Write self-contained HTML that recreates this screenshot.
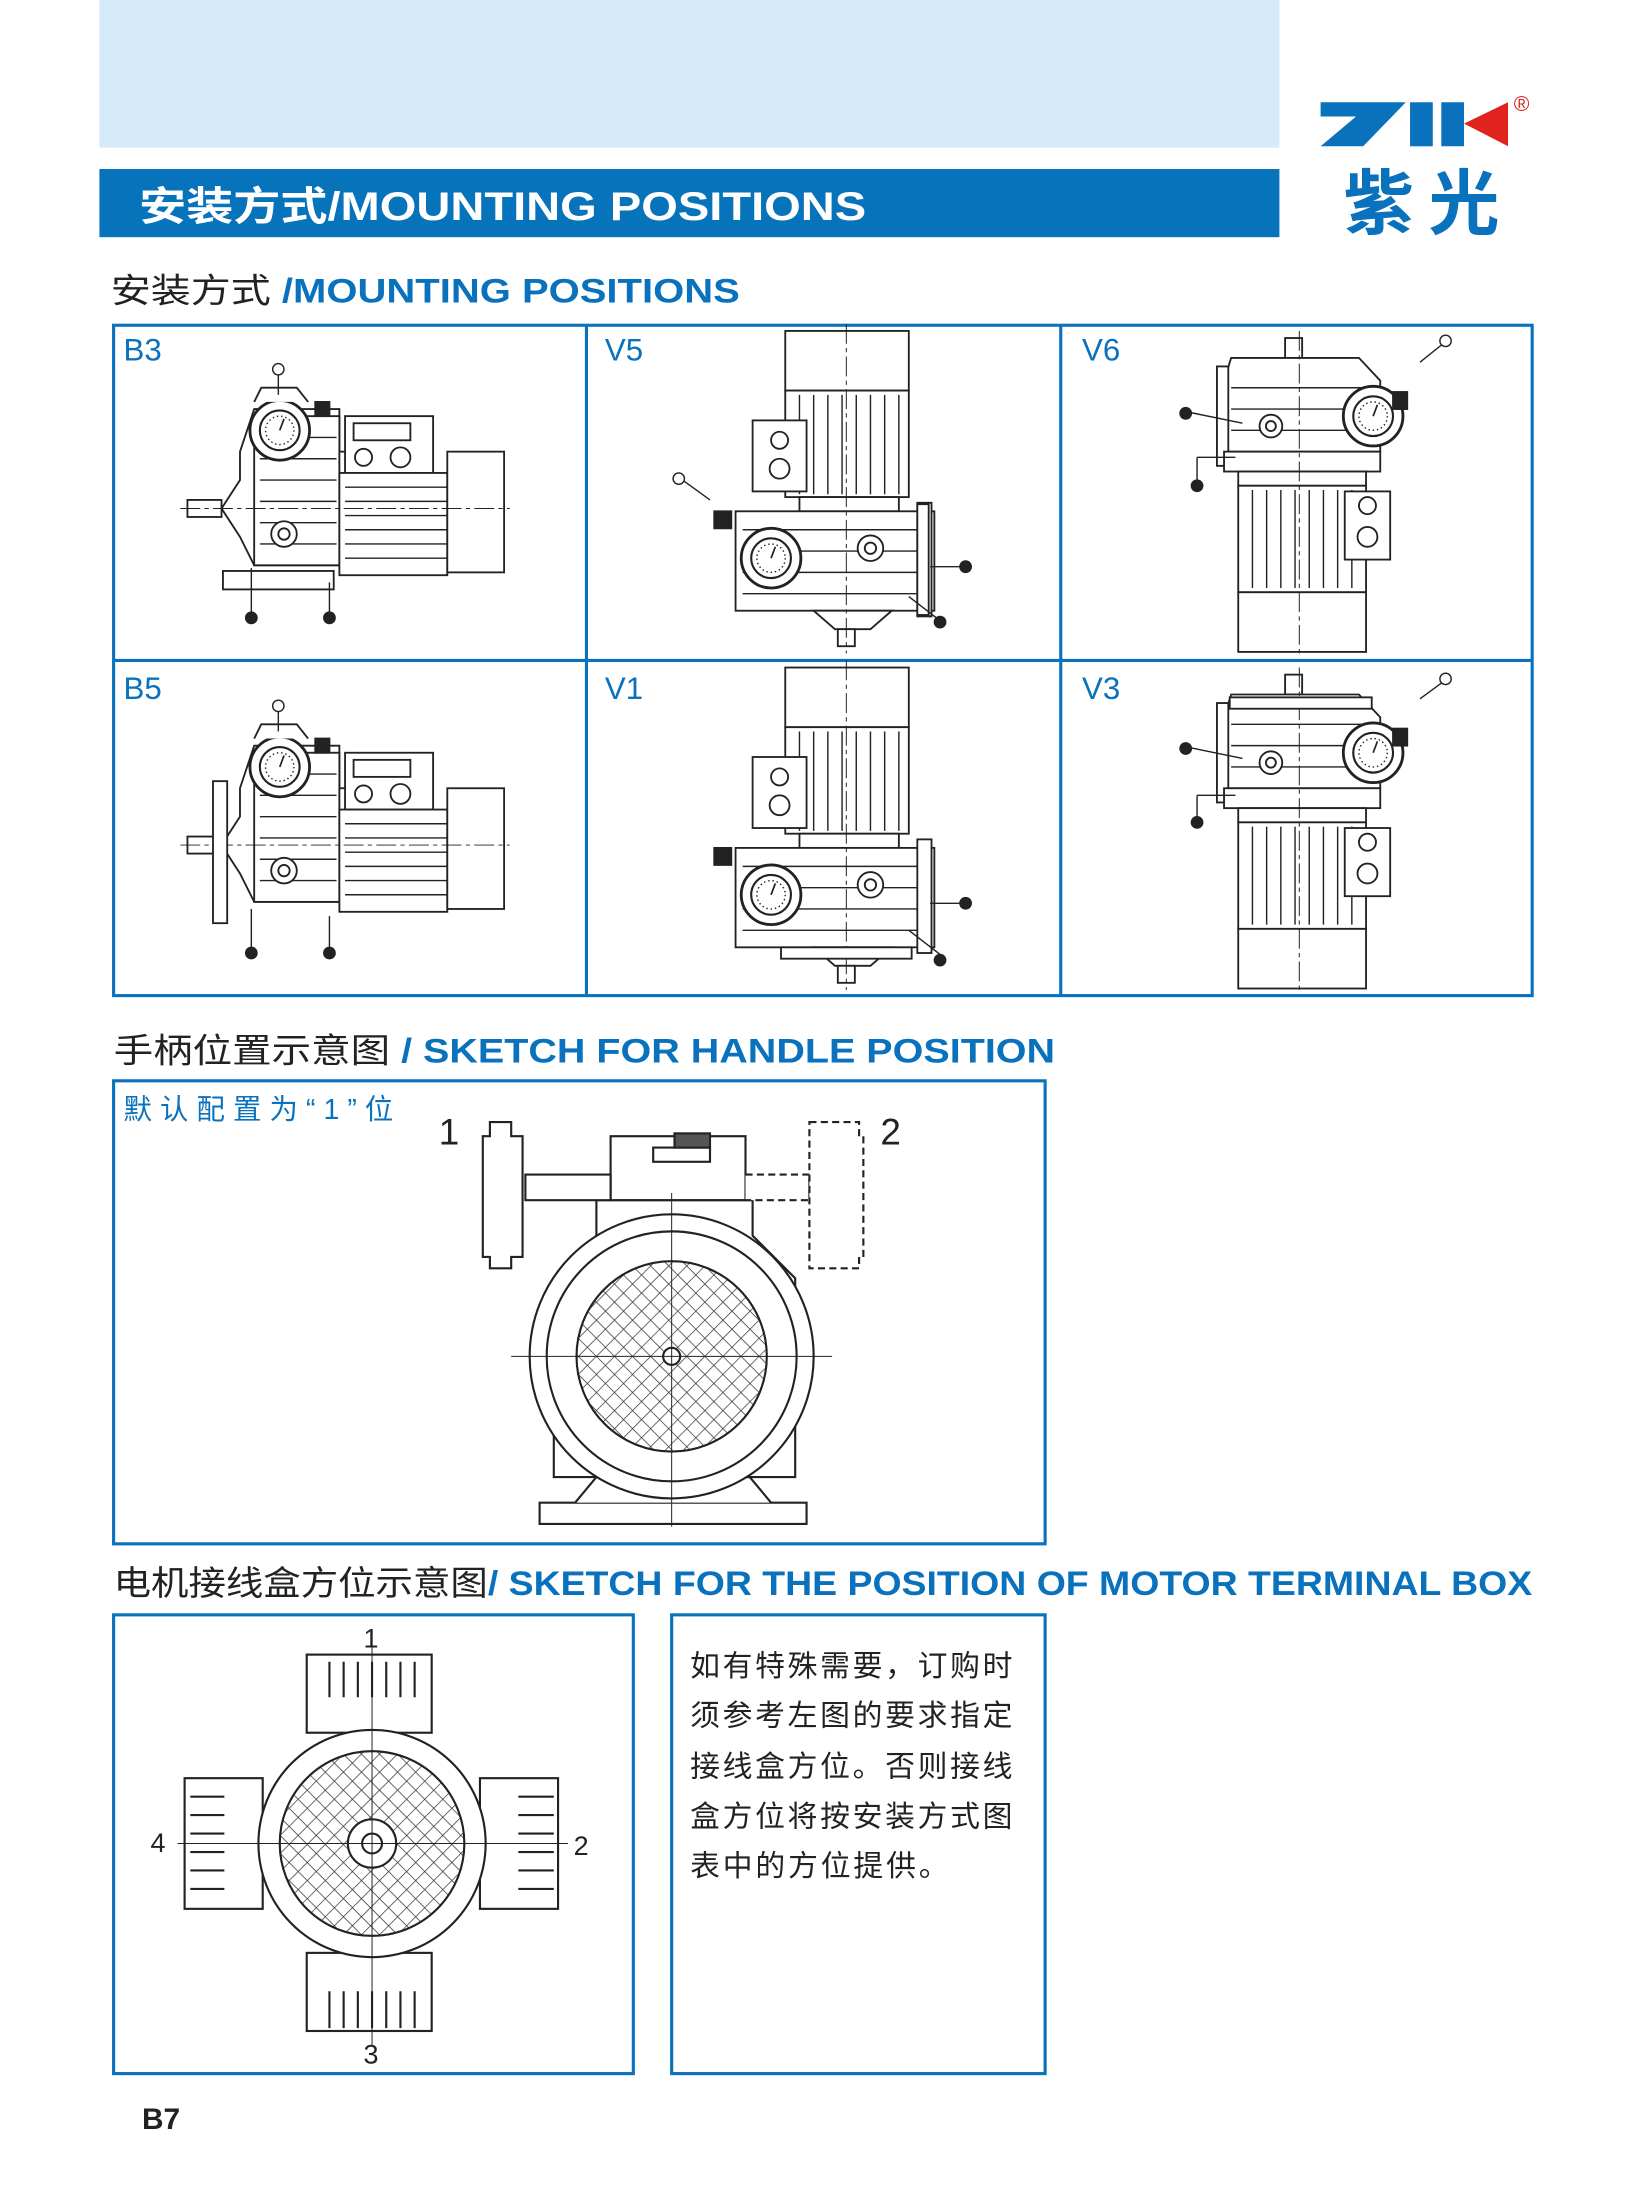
<!DOCTYPE html>
<html><head><meta charset="utf-8"><style>
html,body{margin:0;padding:0;background:#fff}
svg{display:block}
text{font-family:"Liberation Sans","Noto Sans CJK SC",sans-serif}
</style></head><body>
<svg width="1633" height="2200" viewBox="0 0 1150 1549" preserveAspectRatio="none" xmlns="http://www.w3.org/2000/svg">
<defs>
<pattern id="mesh" width="9" height="9" patternUnits="userSpaceOnUse" patternTransform="rotate(45)">
<rect width="9" height="9" fill="#fff"/>
<path d="M0 0H9M0 0V9" stroke="#333" stroke-width="1"/>
</pattern>
<g id="gauge">
<circle r="21" fill="#fff" stroke="#222" stroke-width="2"/>
<circle r="14" fill="#fff" stroke="#222" stroke-width="1.5"/>
<circle r="10" fill="none" stroke="#222" stroke-width="1" stroke-dasharray="1 2"/>
<line x1="0" y1="0" x2="3" y2="-8" stroke="#222" stroke-width="1.2"/>
</g>
<g id="hunit" fill="#fff" stroke="#222" stroke-width="1.3">
<rect x="53" y="124" width="24" height="12"/>
<path d="M77 130 L90 110 L90 90 L100 60 L160 60 L160 170 L100 170 L90 150 Z"/>
<rect x="100" y="65" width="60" height="105"/>
<path d="M104 80H158M104 95H158M104 110H158M104 125H158M104 140H158M104 155H158" stroke-width="1"/>
<rect x="160" y="90" width="12" height="80"/>
<rect x="164" y="65" width="62" height="40"/>
<rect x="170" y="70" width="40" height="12"/>
<circle cx="177" cy="94" r="6"/><circle cx="203" cy="94" r="7"/>
<rect x="160" y="105" width="76" height="72"/>
<path d="M164 115H236M164 125H236M164 135H236M164 145H236M164 155H236M164 165H236" stroke-width="1"/>
<rect x="236" y="90" width="40" height="85"/>
<path d="M48 130H280" stroke-width="0.7" stroke-dasharray="14 3 3 3"/>
<circle cx="121" cy="148" r="9"/><circle cx="121" cy="148" r="4"/>
<use href="#gauge" x="118" y="75"/>
<rect x="143" y="55" width="10" height="10" fill="#222"/>
<path d="M100 55 L105 45 L130 45 L138 55" />
</g>
<g id="vunit" fill="#fff" stroke="#222" stroke-width="1.3">
<rect x="140" y="5" width="87" height="42"/>
<rect x="140" y="47" width="87" height="75"/>
<path d="M150 50V120M160 50V120M170 50V120M180 50V120M190 50V120M200 50V120M210 50V120M220 50V120" stroke-width="1"/>
<rect x="117" y="68" width="38" height="50"/>
<circle cx="136" cy="82" r="6"/><circle cx="136" cy="102" r="7"/>
<rect x="150" y="122" width="70" height="10"/>
<rect x="105" y="132" width="140" height="70"/>
<path d="M110 145H240M110 160H240M110 175H240M110 190H240" stroke-width="1"/>
<rect x="233" y="126" width="10" height="80"/>
<path d="M160 202 L175 215 L200 215 L215 202Z"/>
<rect x="177" y="215" width="12" height="12"/>
<use href="#gauge" x="130" y="165"/>
<rect x="90" y="132" width="12" height="12" fill="#222"/>
<circle cx="200" cy="158" r="9"/><circle cx="200" cy="158" r="4"/>
<path d="M183 0V232" stroke-width="0.7" stroke-dasharray="14 3 3 3"/>
</g>
<g id="v6unit" fill="#fff" stroke="#222" stroke-width="1.3">
<rect x="158" y="10" width="12" height="14"/>
<path d="M120 24 H210 L225 40 V90 H115 V40 Z"/>
<path d="M120 45H225M120 60H225M120 75H225" stroke-width="1"/>
<rect x="110" y="30" width="8" height="70"/>
<rect x="115" y="90" width="110" height="14"/>
<rect x="125" y="104" width="90" height="10"/>
<rect x="125" y="114" width="90" height="75"/>
<path d="M135 117V186M145 117V186M155 117V186M165 117V186M175 117V186M185 117V186M195 117V186M205 117V186" stroke-width="1"/>
<rect x="200" y="118" width="32" height="48"/>
<circle cx="216" cy="128" r="6"/><circle cx="216" cy="150" r="7"/>
<rect x="125" y="189" width="90" height="42"/>
<use href="#gauge" x="220" y="65"/>
<circle cx="148" cy="72" r="8"/><circle cx="148" cy="72" r="3.5"/>
<rect x="234" y="48" width="10" height="12" fill="#222"/>
<path d="M168 5V232" stroke-width="0.7" stroke-dasharray="14 3 3 3"/>
</g>
</defs>

<rect x="70" y="0" width="831" height="104" fill="#d6ebf9"/>
<rect x="70" y="119" width="831" height="48" fill="#0673bb"/>
<text x="98" y="155" font-size="28" font-weight="bold" fill="#fff" textLength="512" lengthAdjust="spacingAndGlyphs">安装方式/MOUNTING POSITIONS</text>
<!-- logo -->
<path d="M930 72 H990 L960 103 H930 L955 82 H930 Z" fill="#0a72bd"/>
<rect x="993" y="72" width="16" height="31" fill="#0a72bd"/>
<path d="M1015 72 H1031 V103 H1015 Z" fill="#0a72bd"/>
<path d="M1031 87 L1062 72 V103 Z" fill="#e0231e"/>
<text x="1066" y="78" font-size="15" fill="#e0231e">®</text>
<text x="946" y="161" font-size="50" font-weight="bold" fill="#0a72bd" font-family="Noto Sans CJK SC,sans-serif" textLength="110">紫光</text>

<text x="78" y="213" font-size="24" fill="#222" textLength="443" lengthAdjust="spacingAndGlyphs">安装方式 <tspan fill="#0a72bd" font-weight="bold">/MOUNTING POSITIONS</tspan></text>

<g fill="none" stroke="#0a72bd" stroke-width="2.2">
<rect x="80" y="229" width="999" height="472"/>
<line x1="80" y1="465" x2="1079" y2="465"/>
<line x1="413" y1="229" x2="413" y2="701"/>
<line x1="747" y1="229" x2="747" y2="701"/>
</g>
<g font-size="22" fill="#0a72bd">
<text x="87" y="254">B3</text><text x="426" y="254">V5</text><text x="762" y="254">V6</text>
<text x="87" y="492">B5</text><text x="426" y="492">V1</text><text x="762" y="492">V3</text>
</g>

<!-- B3 -->
<use href="#hunit" x="79" y="228"/>
<rect x="157" y="402" width="78" height="13" fill="#fff" stroke="#222" stroke-width="1.3"/>
<g stroke="#222" fill="#222">
<circle cx="196" cy="260" r="4" fill="#fff"/><line x1="196" y1="264" x2="196" y2="278"/>
<line x1="177" y1="432" x2="177" y2="400"/><circle cx="177" cy="435" r="4"/>
<line x1="232" y1="432" x2="232" y2="410"/><circle cx="232" cy="435" r="4"/>
</g>
<!-- B5 -->
<use href="#hunit" x="79" y="465"/>
<rect x="150" y="550" width="10" height="100" fill="#fff" stroke="#222" stroke-width="1.3"/>
<g stroke="#222" fill="#222">
<circle cx="196" cy="497" r="4" fill="#fff"/><line x1="196" y1="501" x2="196" y2="515"/>
<line x1="177" y1="668" x2="177" y2="640"/><circle cx="177" cy="671" r="4"/>
<line x1="232" y1="668" x2="232" y2="645"/><circle cx="232" cy="671" r="4"/>
</g>
<!-- V5 -->
<use href="#vunit" x="413" y="228"/>
<rect x="646" y="355" width="8" height="78" fill="#fff" stroke="#222" stroke-width="1.3"/>
<g stroke="#222" fill="#222">
<circle cx="478" cy="337" r="4" fill="#fff"/><line x1="482" y1="339" x2="500" y2="352"/>
<line x1="662" y1="437" x2="640" y2="420"/><circle cx="662" cy="438" r="4"/>
<line x1="678" y1="399" x2="655" y2="399"/><circle cx="680" cy="399" r="4"/>
</g>
<!-- V1 -->
<use href="#vunit" x="413" y="465"/>
<rect x="550" y="667" width="92" height="8" fill="#fff" stroke="#222" stroke-width="1.3"/>
<g stroke="#222" fill="#222">
<line x1="662" y1="672" x2="640" y2="655"/><circle cx="662" cy="676" r="4"/>
<line x1="678" y1="636" x2="655" y2="636"/><circle cx="680" cy="636" r="4"/>
</g>
<!-- V6 -->
<use href="#v6unit" x="747" y="228"/>
<g stroke="#222" fill="#222">
<circle cx="1018" cy="240" r="4" fill="#fff"/><line x1="1015" y1="243" x2="1000" y2="255"/>
<line x1="836" y1="290" x2="875" y2="298"/><circle cx="835" cy="291" r="4"/>
<line x1="843" y1="340" x2="843" y2="322"/><line x1="843" y1="322" x2="870" y2="322"/><circle cx="843" cy="342" r="4"/>
</g>
<!-- V3 -->
<use href="#v6unit" x="747" y="465"/>
<rect x="866" y="491" width="100" height="8" fill="#fff" stroke="#222" stroke-width="1.3"/>
<g stroke="#222" fill="#222">
<circle cx="1018" cy="478" r="4" fill="#fff"/><line x1="1015" y1="481" x2="1000" y2="492"/>
<line x1="836" y1="526" x2="875" y2="534"/><circle cx="835" cy="527" r="4"/>
<line x1="843" y1="577" x2="843" y2="560"/><line x1="843" y1="560" x2="870" y2="560"/><circle cx="843" cy="579" r="4"/>
</g>

<text x="80" y="748" font-size="24" fill="#222" textLength="663" lengthAdjust="spacingAndGlyphs">手柄位置示意图<tspan fill="#0a72bd" font-weight="bold"> / SKETCH FOR HANDLE POSITION</tspan></text>
<rect x="80" y="761" width="656" height="326" fill="none" stroke="#0a72bd" stroke-width="2.2"/>
<text x="87" y="788" font-size="20" fill="#0a72bd" textLength="190" lengthAdjust="spacing">默认配置为“1”位</text>
<text x="309" y="806" font-size="26" fill="#222">1</text>
<text x="620" y="806" font-size="26" fill="#222">2</text>
<!-- handle sketch -->
<g fill="#fff" stroke="#222" stroke-width="1.5">
<path d="M380 1058 H568 V1073 H380 Z"/>
<path d="M405 1058 L420 1040 H528 L543 1058"/>
<path d="M420 870 V845 H530 V870 L560 900 V1040 H390 V900 Z"/>
<rect x="430" y="800" width="95" height="45"/>
<rect x="460" y="808" width="40" height="10"/>
<rect x="475" y="798" width="25" height="10" fill="#555"/>
<circle cx="473" cy="955" r="100"/>
<circle cx="473" cy="955" r="88"/>
<circle cx="473" cy="955" r="67" fill="url(#mesh)"/>
<circle cx="473" cy="955" r="6"/>
<path d="M370 827 H430 V845 H370 Z"/>
<path d="M345 790 H360 V800 H368 V885 H360 V893 H345 V885 H340 V800 H345 Z"/>
<g stroke-dasharray="5 3">
<path d="M525 827 H570 V845 H525"/>
<path d="M570 790 H605 V800 H608 V885 H605 V893 H570 Z"/>
</g>
<path d="M360 955 H586 M473 840 V1075" stroke-width="0.7"/>
</g>

<text x="80" y="1123" font-size="24" fill="#222" textLength="999" lengthAdjust="spacingAndGlyphs">电机接线盒方位示意图<tspan fill="#0a72bd" font-weight="bold">/ SKETCH FOR THE POSITION OF MOTOR TERMINAL BOX</tspan></text>
<rect x="80" y="1137" width="366" height="323" fill="none" stroke="#0a72bd" stroke-width="2.2"/>
<rect x="473" y="1137" width="263" height="323" fill="none" stroke="#0a72bd" stroke-width="2.2"/>
<!-- terminal box sketch -->
<g fill="#fff" stroke="#222" stroke-width="1.5">
<rect x="216" y="1165" width="88" height="55"/>
<path d="M232 1170V1195M242 1170V1195M252 1170V1195M262 1170V1195M272 1170V1195M282 1170V1195M292 1170V1195"/>
<rect x="216" y="1375" width="88" height="55"/>
<path d="M232 1402V1428M242 1402V1428M252 1402V1428M262 1402V1428M272 1402V1428M282 1402V1428M292 1402V1428"/>
<rect x="130" y="1252" width="55" height="92"/>
<path d="M134 1265H158M134 1278H158M134 1291H158M134 1304H158M134 1317H158M134 1330H158"/>
<rect x="338" y="1252" width="55" height="92"/>
<path d="M365 1265H390M365 1278H390M365 1291H390M365 1304H390M365 1317H390M365 1330H390"/>
<circle cx="262" cy="1298" r="80"/>
<circle cx="262" cy="1298" r="65" fill="url(#mesh)"/>
<circle cx="262" cy="1298" r="17"/>
<circle cx="262" cy="1298" r="7"/>
<path d="M125 1298H400M262 1160V1440" stroke-width="0.7"/>
</g>
<g font-size="19" fill="#222">
<text x="256" y="1160">1</text><text x="404" y="1306">2</text>
<text x="256" y="1453">3</text><text x="106" y="1304">4</text>
</g>
<g font-size="21" fill="#222">
<text x="486" y="1180" textLength="227">如有特殊需要，订购时</text>
<text x="486" y="1215" textLength="227">须参考左图的要求指定</text>
<text x="486" y="1251" textLength="227">接线盒方位。否则接线</text>
<text x="486" y="1286" textLength="227">盒方位将按安装方式图</text>
<text x="486" y="1321" textLength="182">表中的方位提供。</text>
</g>
<text x="100" y="1499" font-size="21" font-weight="bold" fill="#222">B7</text>
</svg>
</body></html>
